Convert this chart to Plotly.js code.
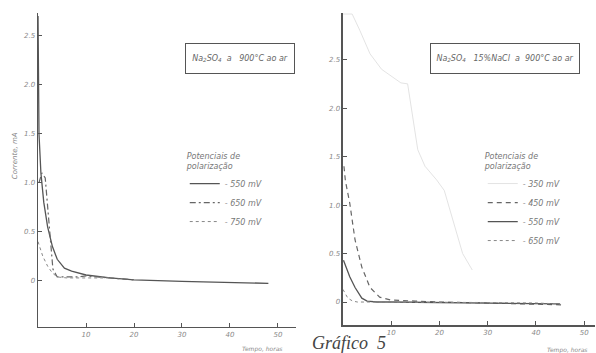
<!DOCTYPE html>
<html>
<head>
<meta charset="utf-8">
<script src="https://cdn.plot.ly/plotly-3.0.1.min.js"></script>
<style>html,body{margin:0;padding:0;background:#fff;}#chart{width:596px;height:353px;}</style>
</head>
<body>
<div id="chart"></div>
<script>
// ---- Left panel: Na2SO4 a 900°C ao ar ----
const tL550 = [0, 0.2, 0.6, 1.2, 2.0, 3.0, 4.0, 5.5, 7, 10, 15, 20, 30, 40, 48];
const cL550 = [2.7, 1.5, 1.1, 0.8, 0.55, 0.35, 0.22, 0.13, 0.1, 0.06, 0.03, 0.01, -0.005, -0.015, -0.025];
const tL650 = [0.2, 0.8, 1.5, 2.0, 2.5, 3.1, 4, 6, 8, 10, 12, 15, 20];
const cL650 = [1.0, 1.1, 1.05, 0.75, 0.42, 0.12, 0.04, 0.04, 0.04, 0.05, 0.04, 0.03, 0.01];
const tL750 = [0, 0.5, 1, 2, 3, 4, 6, 10, 15];
const cL750 = [0.4, 0.32, 0.25, 0.15, 0.08, 0.04, 0.03, 0.03, 0.03];

// ---- Right panel: Na2SO4 15%NaCl a 900°C ao ar ----
const tR350 = [0, 1.9, 3.5, 5.6, 8, 12, 13.4, 15.5, 17, 19.4, 21, 23, 24.8, 26.8];
const cR350 = [2.97, 2.97, 2.8, 2.56, 2.4, 2.26, 2.25, 1.57, 1.4, 1.26, 1.15, 0.8, 0.5, 0.33];
const tR450 = [0.2, 0.5, 1.4, 2.5, 3.9, 5.6, 7.6, 10, 15, 20, 30, 40, 46];
const cR450 = [1.4, 1.25, 1.02, 0.64, 0.36, 0.15, 0.05, 0.02, 0.01, 0.0, -0.01, -0.02, -0.03];
const tR550 = [0.1, 0.5, 1.4, 2.5, 3.9, 5, 7, 10, 20, 30, 40, 45];
const cR550 = [0.43, 0.38, 0.26, 0.15, 0.04, 0.01, 0, 0, -0.005, -0.01, -0.015, -0.02];
const tR650 = [0, 0.5, 1, 2, 3, 5, 10, 20, 30, 40, 45];
const cR650 = [0.13, 0.08, 0.04, 0.01, 0, 0, 0, 0, -0.005, -0.01, -0.02];

const xTickVals = [10, 20, 30, 40, 50];
const xTickText = ["10", "20", "30", "40", "50"];
const yTickVals = [0, 0.5, 1, 1.5, 2, 2.5];
const yTickText = ["0", "0.5", "1.0", "1.5", "2.0", "2.5"];

const ink = '#555';
const tickFont = {family: 'DejaVu Sans', size: 7, color: '#888', style: 'italic'};

const traces = [
  {x: tL550, y: cL550, name: '- 550 mV', mode: 'lines', line: {color: '#555', width: 1.3, dash: 'solid'}, xaxis: 'x', yaxis: 'y', legend: 'legend'},
  {x: tL650, y: cL650, name: '- 650 mV', mode: 'lines', line: {color: '#666', width: 1.2, dash: '6px,3px,2px,3px'}, xaxis: 'x', yaxis: 'y', legend: 'legend'},
  {x: tL750, y: cL750, name: '- 750 mV', mode: 'lines', line: {color: '#888', width: 1, dash: 'dot'}, xaxis: 'x', yaxis: 'y', legend: 'legend'},
  {x: tR350, y: cR350, name: '- 350 mV', mode: 'lines', line: {color: '#e0e0e0', width: 0.9, dash: 'solid'}, xaxis: 'x2', yaxis: 'y2', legend: 'legend2'},
  {x: tR450, y: cR450, name: '- 450 mV', mode: 'lines', line: {color: '#666', width: 1.2, dash: '5px,4px'}, xaxis: 'x2', yaxis: 'y2', legend: 'legend2'},
  {x: tR550, y: cR550, name: '- 550 mV', mode: 'lines', line: {color: '#555', width: 1.3, dash: 'solid'}, xaxis: 'x2', yaxis: 'y2', legend: 'legend2'},
  {x: tR650, y: cR650, name: '- 650 mV', mode: 'lines', line: {color: '#888', width: 1, dash: 'dot'}, xaxis: 'x2', yaxis: 'y2', legend: 'legend2'}
];

function xax(domain, range) {
  return {domain: domain, range: range, showgrid: false, zeroline: false, showline: true,
    linecolor: ink, linewidth: 1.5, ticks: 'inside', ticklen: 4, tickcolor: ink,
    tickvals: xTickVals, ticktext: xTickText, tickfont: tickFont, fixedrange: true};
}
function yax(domain, range, anchor) {
  return {domain: domain, range: range, anchor: anchor, showgrid: false, zeroline: false, showline: true,
    linecolor: ink, linewidth: 1.5, ticks: 'inside', ticklen: 4, tickcolor: ink,
    tickvals: yTickVals, ticktext: yTickText, tickfont: tickFont, fixedrange: true};
}

const legFont = {family: 'DejaVu Sans', size: 8, color: '#777', style: 'italic'};

const layout = {
  width: 596, height: 353,
  margin: {l: 0, r: 0, t: 0, b: 0},
  paper_bgcolor: '#fff', plot_bgcolor: 'rgba(0,0,0,0)',
  showlegend: true,
  xaxis: Object.assign(xax([0.0638, 0.4966], [0, 53.75]), {anchor: 'y'}),
  yaxis: yax([0.0737, 0.963], [-0.47, 2.73], 'x'),
  xaxis2: Object.assign(xax([0.5755, 0.998], [0, 52.2]), {anchor: 'y2'}),
  yaxis2: yax([0.0793, 0.963], [-0.237, 2.98], 'x2'),
  legend: {x: 0.31, y: 0.58, xanchor: 'left', yanchor: 'top', bgcolor: 'rgba(0,0,0,0)',
    font: legFont, title: {text: 'Potenciais de<br>polarização', font: legFont}, itemwidth: 30},
  legend2: {x: 0.81, y: 0.58, xanchor: 'left', yanchor: 'top', bgcolor: 'rgba(0,0,0,0)',
    font: legFont, title: {text: 'Potenciais de<br>polarização', font: legFont}, itemwidth: 30},
  annotations: [
    {xref: 'paper', yref: 'paper', x: 0.4027, y: 0.834, xanchor: 'center', yanchor: 'middle',
      text: 'Na<sub>2</sub>SO<sub>4</sub>  a   900°C ao ar', showarrow: false,
      font: {family: 'DejaVu Sans', size: 8, color: '#666', style: 'italic'},
      bordercolor: '#555', borderwidth: 1, borderpad: 2, width: 104, height: 25},
    {xref: 'paper', yref: 'paper', x: 0.847, y: 0.833, xanchor: 'center', yanchor: 'middle',
      text: 'Na<sub>2</sub>SO<sub>4</sub>   15%NaCl  a  900°C ao ar', showarrow: false,
      font: {family: 'DejaVu Sans', size: 8, color: '#666', style: 'italic'},
      bordercolor: '#555', borderwidth: 1, borderpad: 2, width: 144, height: 25},
    {xref: 'paper', yref: 'paper', x: 0.025, y: 0.56, xanchor: 'center', yanchor: 'middle',
      text: 'Corrente, mA', textangle: -90, showarrow: false,
      font: {family: 'DejaVu Sans', size: 7, color: '#888', style: 'italic'}},
    {xref: 'paper', yref: 'paper', x: 0.44, y: 0.01, xanchor: 'center', yanchor: 'middle',
      text: 'Tempo, horas', showarrow: false,
      font: {family: 'DejaVu Sans', size: 6, color: '#888', style: 'italic'}},
    {xref: 'paper', yref: 'paper', x: 0.952, y: 0.008, xanchor: 'center', yanchor: 'middle',
      text: 'Tempo, horas', showarrow: false,
      font: {family: 'DejaVu Sans', size: 6, color: '#888', style: 'italic'}},
    {xref: 'paper', yref: 'paper', x: 0.585, y: -0.006, xanchor: 'center', yanchor: 'bottom',
      text: 'Gráfico  5', showarrow: false,
      font: {family: 'Liberation Serif', size: 18, color: '#444', style: 'italic'}}
  ]
};

Plotly.newPlot('chart', traces, layout, {displayModeBar: false, staticPlot: true});
</script>
</body>
</html>
